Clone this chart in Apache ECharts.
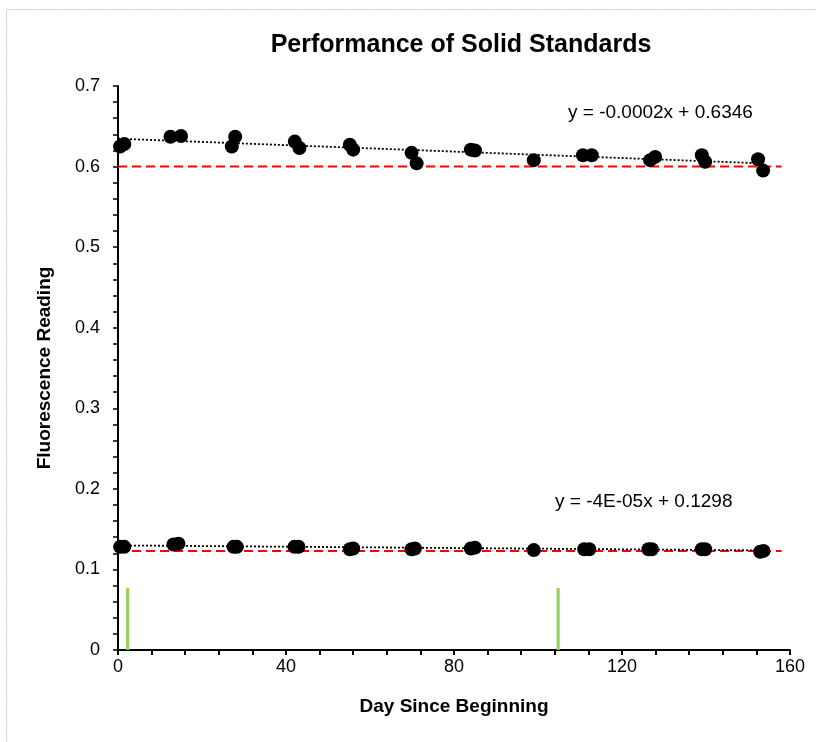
<!DOCTYPE html>
<html>
<head>
<meta charset="utf-8">
<script src="https://cdn.jsdelivr.net/npm/echarts@6/dist/echarts.min.js"></script>
<style>
  html, body { margin: 0; padding: 0; background: #fff; }
  #chart { width: 816px; height: 742px; }
</style>
</head>
<body>
<div id="chart"></div>
<script>
// upper standard readings (day, reading)
const upperDays = [0.5, 1.5, 12.5, 15, 27.1, 27.9, 42.1, 43.2, 55.2, 56, 69.9, 71.1, 84, 85, 99, 110.7, 112.8, 126.7, 127.9, 139, 139.8, 152.4, 153.6];
const upperValues = [0.625, 0.628, 0.637, 0.638, 0.625, 0.637, 0.631, 0.623, 0.627, 0.621, 0.617, 0.604, 0.621, 0.620, 0.608, 0.614, 0.614, 0.608, 0.612, 0.614, 0.606, 0.609, 0.595];

// lower standard readings
const lowerDays = [0.5, 1.5, 13.2, 14.4, 27.5, 28.3, 42, 43, 55.2, 56, 69.9, 70.7, 84, 85, 99, 111, 112.2, 126.3, 127.1, 139, 139.8, 152.9, 153.7];
const lowerValues = [0.128, 0.128, 0.131, 0.132, 0.128, 0.128, 0.128, 0.128, 0.125, 0.126, 0.125, 0.126, 0.126, 0.127, 0.124, 0.125, 0.125, 0.125, 0.125, 0.125, 0.125, 0.122, 0.123];

// linear trend lines (end points)
const trendDays = [0, 154];
const upperTrend = [0.6346, 0.6038];
const lowerTrend = [0.1298, 0.1236];
const upperEquation = 'y = -0.0002x + 0.6346';
const lowerEquation = 'y = -4E-05x + 0.1298';

// red reference limits
const limitDays = [0, 158];
const upperLimit = [0.6, 0.6];
const lowerLimit = [0.123, 0.123];

// green event markers
const eventDays = [2.3, 104.8];
const eventHeight = 0.077;

const xTicks = [0, 40, 80, 120, 160];
const yTicks = [0, 0.1, 0.2, 0.3, 0.4, 0.5, 0.6, 0.7];

const font = 'Liberation Sans, Arial, sans-serif';

const chart = echarts.init(document.getElementById('chart'));

const zip = (xs, ys) => xs.map((x, i) => [x, ys[i]]);

const eventSeries = eventDays.map(d => ({
  type: 'line',
  data: [[d, 0], [d, eventHeight]],
  symbol: 'none',
  lineStyle: { color: '#92d050', width: 3 },
  silent: true,
  z: 2
}));

const option = {
  animation: false,
  backgroundColor: '#fff',
  title: {
    text: 'Performance of Solid Standards',
    left: 456,
    top: 28,
    textAlign: 'center',
    textStyle: { fontFamily: font, fontSize: 25, fontWeight: 'bold', color: '#000' }
  },
  graphic: [
    {
      type: 'rect',
      shape: { x: 6.5, y: 9.5, width: 830, height: 760 },
      style: { fill: 'none', stroke: '#c8c8c8', lineWidth: 1, lineDash: [2, 1] },
      silent: true,
      z: -1
    },
    {
      type: 'text',
      left: 568, top: 103,
      style: { text: upperEquation, font: '19px ' + font, fill: '#000' }
    },
    {
      type: 'text',
      left: 555, top: 492,
      style: { text: lowerEquation, font: '19px ' + font, fill: '#000' }
    }
  ],
  grid: { left: 118, top: 86, width: 672, height: 564 },
  xAxis: {
    type: 'value',
    min: 0,
    max: 160,
    interval: 8,
    name: 'Day Since Beginning',
    nameLocation: 'middle',
    nameGap: 47,
    nameTextStyle: { fontFamily: font, fontSize: 19, fontWeight: 'bold', color: '#000' },
    axisLine: { lineStyle: { color: '#000', width: 2 } },
    axisTick: { show: true, length: 5, lineStyle: { color: '#000', width: 2 } },
    axisLabel: {
      fontFamily: font, fontSize: 18, color: '#000', margin: 8,
      formatter: v => (xTicks.includes(Math.round(v)) && Math.abs(v - Math.round(v)) < 1e-6 ? String(Math.round(v)) : '')
    },
    splitLine: { show: false }
  },
  yAxis: {
    type: 'value',
    min: 0,
    max: 0.7,
    interval: 0.02,
    name: 'Fluorescence Reading',
    nameLocation: 'middle',
    nameGap: 64,
    nameTextStyle: { fontFamily: font, fontSize: 19, fontWeight: 'bold', color: '#000' },
    axisLine: { show: true, lineStyle: { color: '#000', width: 2 } },
    axisTick: { show: true, length: 5, lineStyle: { color: '#000', width: 1.5 } },
    axisLabel: {
      fontFamily: font, fontSize: 18, color: '#000', margin: 18,
      formatter: v => {
        const r = Math.round(v * 100);
        if (r % 10 !== 0) return '';
        return r === 0 ? '0' : (r / 100).toFixed(1);
      }
    },
    splitLine: { show: false }
  },
  series: [
    ...eventSeries,
    {
      type: 'line',
      data: zip(limitDays, upperLimit),
      symbol: 'none',
      lineStyle: { color: '#ff0000', width: 2, type: [9, 5] },
      z: 3
    },
    {
      type: 'line',
      data: zip(limitDays, lowerLimit),
      symbol: 'none',
      lineStyle: { color: '#ff0000', width: 2, type: [9, 5] },
      z: 3
    },
    {
      type: 'line',
      data: zip(trendDays, upperTrend),
      symbol: 'none',
      lineStyle: { color: '#000', width: 1.8, type: [2, 2] },
      z: 4
    },
    {
      type: 'line',
      data: zip(trendDays, lowerTrend),
      symbol: 'none',
      lineStyle: { color: '#000', width: 1.8, type: [2, 2] },
      z: 4
    },
    {
      type: 'scatter',
      data: zip(upperDays, upperValues),
      symbol: 'circle',
      symbolSize: 14,
      itemStyle: { color: '#000', opacity: 1 },
      z: 5
    },
    {
      type: 'scatter',
      data: zip(lowerDays, lowerValues),
      symbol: 'circle',
      symbolSize: 14,
      itemStyle: { color: '#000', opacity: 1 },
      z: 5
    }
  ]
};

chart.setOption(option);
</script>
</body>
</html>
